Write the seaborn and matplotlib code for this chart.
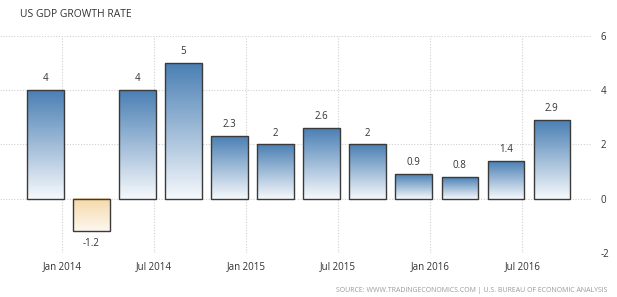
import numpy as np
import pandas as pd
import matplotlib
matplotlib.use("Agg")
import matplotlib.pyplot as plt
import seaborn as sns
from matplotlib.colors import LinearSegmentedColormap

quarters = ["Q1 2014", "Q2 2014", "Q3 2014", "Q4 2014", "Q1 2015", "Q2 2015",
            "Q3 2015", "Q4 2015", "Q1 2016", "Q2 2016", "Q3 2016", "Q4 2016"]
growth = [4, -1.2, 4, 5, 2.3, 2, 2.6, 2, 0.9, 0.8, 1.4, 2.9]
value_labels = ["4", "-1.2", "4", "5", "2.3", "2", "2.6", "2", "0.9", "0.8", "1.4", "2.9"]
tick_labels = ["Jan 2014", "Jul 2014", "Jan 2015", "Jul 2015", "Jan 2016", "Jul 2016"]
tick_bar_index = [0, 2, 4, 6, 8, 10]
y_ticks = [-2, 0, 2, 4, 6]

sns.set_style("white")
plt.rcParams['font.family'] = ['Open Sans', 'DejaVu Sans']

df = pd.DataFrame({"quarter": quarters, "growth": growth})

fig = plt.figure(figsize=(6.17, 2.97), dpi=100)
ax = fig.add_axes([0.0, 0.148, 0.96, 0.731])

sns.barplot(data=df, x="quarter", y="growth", ax=ax, width=0.79,
            facecolor="none", edgecolor="#3a3a3a", linewidth=1.0, zorder=3)

blue = LinearSegmentedColormap.from_list("b", ["#f6f9fc", "#4a7fb4"])
tan = LinearSegmentedColormap.from_list("t", ["#fdf8ef", "#f5d9a8"])
grad = np.linspace(0, 1, 256).reshape(-1, 1)

for p, v, lab in zip(ax.patches, growth, value_labels):
    x0 = p.get_x(); w = p.get_width()
    y0 = p.get_y(); h = p.get_height()
    ylo, yhi = min(y0, y0 + h), max(y0, y0 + h)
    if v >= 0:
        ax.imshow(grad, cmap=blue, origin="lower", aspect="auto",
                  extent=[x0, x0 + w, ylo, yhi], zorder=2)
        ax.text(x0 + w / 2, v + 0.22, lab, ha="center", va="bottom",
                fontsize=7, color="#333333", zorder=4)
    else:
        ax.imshow(grad, cmap=tan, origin="lower", aspect="auto",
                  extent=[x0, x0 + w, ylo, yhi], zorder=2)
        ax.text(x0 + w / 2, v - 0.25, lab, ha="center", va="top",
                fontsize=7, color="#333333", zorder=4)

ax.set_xlim(-0.985, 11.88)
ax.set_ylim(-2, 6)
ax.set_xticks([i + 0.36 for i in tick_bar_index])
ax.set_xticklabels(tick_labels, fontsize=7, color="#333333")
ax.set_yticks(y_ticks)
ax.set_yticklabels([str(t) for t in y_ticks], fontsize=7, color="#333333")
ax.yaxis.tick_right()
ax.tick_params(axis="both", length=0, pad=6)
ax.tick_params(axis="y", pad=6)
ax.set_xlabel("")
ax.set_ylabel("")
ax.grid(True, axis="both", color="#d0d0d0", linestyle=(0, (1, 1.5)), linewidth=0.8, zorder=0)
ax.set_axisbelow(True)
for s in ax.spines.values():
    s.set_visible(False)

fig.text(0.032, 0.952, "US GDP GROWTH RATE", fontsize=7.5, color="#333333",
         ha="left", va="center")
fig.text(0.985, 0.022, "SOURCE: WWW.TRADINGECONOMICS.COM | U.S. BUREAU OF ECONOMIC ANALYSIS",
         fontsize=5, color="#9a9a9a", ha="right", va="center")

fig.savefig("out.png", dpi=100)
